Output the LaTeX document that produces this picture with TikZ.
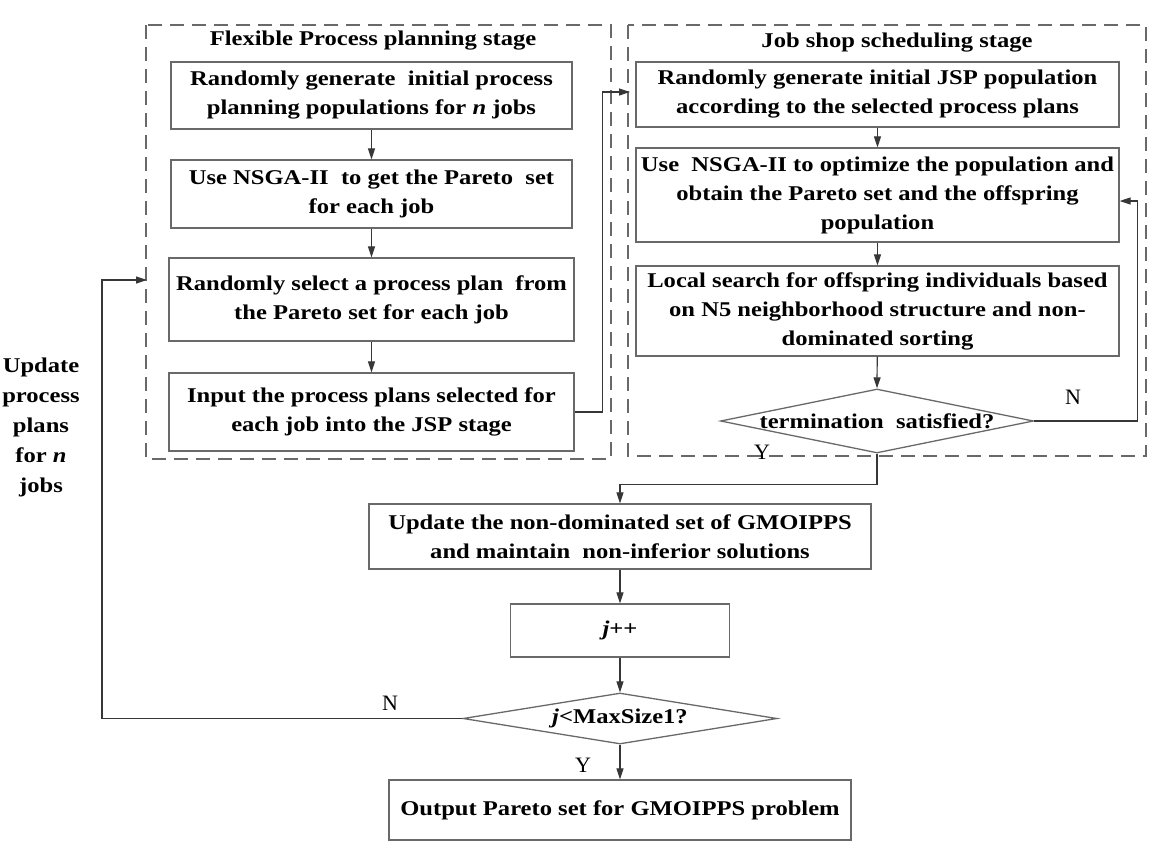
\documentclass[tikz,border=0pt]{standalone}
\usepackage{fontspec}
\setmainfont[FakeStretch=1.17]{Liberation Serif}
\newfontfamily\plainserif{Liberation Serif}
\usetikzlibrary{arrows.meta,shapes.geometric,calc}
\definecolor{boxgray}{RGB}{105,105,105}
\definecolor{linegray}{RGB}{55,55,55}
\begin{document}
\begin{tikzpicture}[x=1pt,y=-1pt,
  txt/.style={font=\fontsize{21}{29}\selectfont\bfseries, align=center},
  box/.style={txt, draw=boxgray, line width=1.3pt, rectangle, inner sep=0pt},
  dia/.style={draw=boxgray, line width=1.3pt, diamond, inner sep=0pt},
  frame/.style={draw=boxgray, line width=1.3pt, dash pattern=on 14pt off 8pt},
  lbl/.style={font=\plainserif\fontsize{22}{25}\selectfont},
  arr/.style={draw=linegray, line width=1.2pt, -{Triangle[length=11pt,width=7pt]}},
  ln/.style={draw=linegray, line width=1.2pt}]
\useasboundingbox (0,0) rectangle (1163,855);
\fill[white] (0,0) rectangle (1163,855);

% stage frames
\draw[frame] (146,25) rectangle (611,459);
\draw[frame] (628,25) rectangle (1146,456);
\node[txt] (ltitle) at (373,41) {Flexible Process planning stage};
\node[txt] (rtitle) at (897,43) {Job shop scheduling stage};

% left column
\node[box, minimum width=401pt, minimum height=67pt] (L1) at (371.5,95.5)
  {Randomly generate\ \ initial process\\planning populations for \textit{n} jobs};
\node[box, minimum width=401pt, minimum height=68pt] (L2) at (371.5,194)
  {Use NSGA-II\ \ to get the Pareto\ \ set\\for each job};
\node[box, minimum width=405pt, minimum height=83pt] (L3) at (371.5,299.5)
  {Randomly select a process plan\ \ from\\the Pareto set for each job};
\node[box, minimum width=405pt, minimum height=78pt] (L4) at (371.5,412)
  {Input the process plans selected for\\each job into the JSP stage};

% right column
\node[box, minimum width=483pt, minimum height=65pt] (R1) at (877.5,94.5)
  {Randomly generate initial JSP population\\according to the selected process plans};
\node[box, minimum width=483pt, minimum height=94pt] (R2) at (877.5,195)
  {Use\ \ NSGA-II to optimize the population and\\obtain the Pareto set and the offspring\\population};
\node[box, minimum width=483pt, minimum height=90pt] (R3) at (877.5,311)
  {Local search for offspring individuals based\\on N5 neighborhood structure and non-\\dominated sorting};
\node[dia, minimum width=313pt, minimum height=64pt] (D1) at (877,421) {};
\node[txt] (D1t) at (D1) {termination\ \ satisfied?};

% lower part
\node[box, minimum width=502pt, minimum height=65pt] (B5) at (620,536.5)
  {Update the non-dominated set of GMOIPPS\\and maintain\ \ non-inferior solutions};
\node[box, minimum width=219pt, minimum height=53pt] (J) at (620,630.5)
  {\textit{j}++};
\node[dia, minimum width=314pt, minimum height=51pt] (D2) at (620,718.5) {};
\node[txt] (D2t) at (D2) {\textit{j}<MaxSize1?};
\node[box, minimum width=462pt, minimum height=60pt] (Out) at (620,810)
  {Output Pareto set for GMOIPPS problem};

% side label
\node[txt, font=\fontsize{21}{30}\selectfont\bfseries] (upd) at (41,427)
  {Update\\process\\plans\\for \textit{n}\\jobs};

% connectors
\draw[arr] (L1) -- (L2);
\draw[arr] (L2) -- (L3);
\draw[arr] (L3) -- (L4);
\coordinate (jin) at (630,92);
\draw[arr] (L4.east) -- ++(28,0) |- (jin);
\draw[arr] (R1) -- (R2);
\draw[arr] (R2) -- (R3);
\draw[arr] (R3) -- (D1.north);
\draw[arr] (D1.east) -- ++(103,0) |- ([yshift=-6pt]R2.east);
\draw[arr] (D1.south) -- ++(0,31) -| (B5.north);
\draw[arr] (B5) -- (J);
\draw[arr] (J) -- (D2.north);
\coordinate (lin) at (147,280);
\draw[arr] (D2.west) -| (102,280) -- (lin);
\draw[arr] (D2.south) -- (Out.north);

% branch labels
\node[lbl] (n1) at (1073,397) {N};
\node[lbl] (y1) at (762,452) {Y};
\node[lbl] (n2) at (390,703) {N};
\node[lbl] (y2) at (583,765) {Y};
\end{tikzpicture}
\end{document}
